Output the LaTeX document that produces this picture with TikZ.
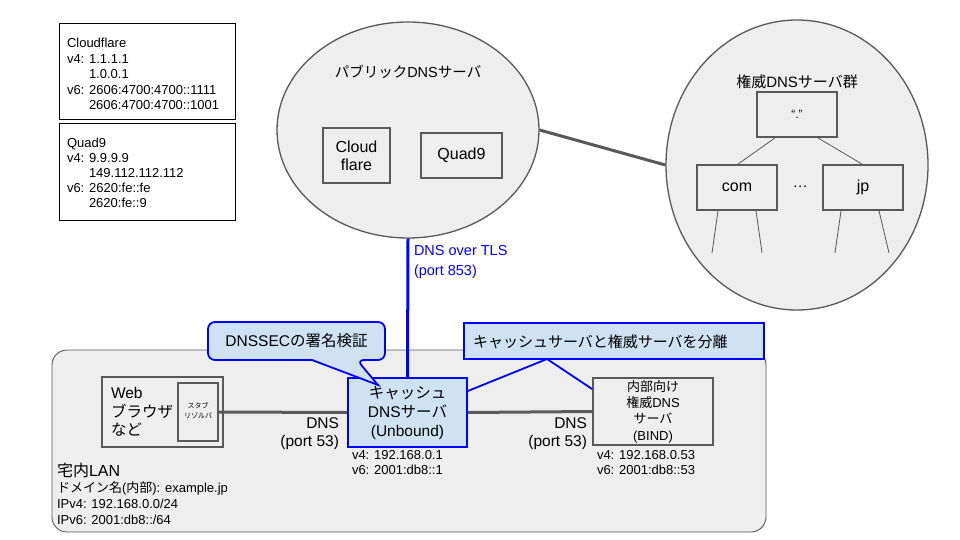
\documentclass[tikz,border=0pt]{standalone}
\usepackage{fontspec}
\setmainfont{Liberation Sans}
\newfontfamily\jafont{Noto Sans CJK JP}
\newcommand\J[1]{{\jafont #1}}
\newcommand\fs[2]{\fontsize{#1}{#2}\selectfont}
\usetikzlibrary{shapes.geometric}
\definecolor{lgray}{HTML}{EEEEEE}
\definecolor{dgray}{HTML}{595959}
\definecolor{lblue}{HTML}{CFE2F3}
\definecolor{pblue}{HTML}{0000FF}
\begin{document}
\begin{tikzpicture}[x=1pt,y=-1pt,
  ell/.style={ellipse, draw=dgray, line width=1.3pt, fill=lgray, inner sep=0},
  gbox/.style={rectangle, draw=dgray, line width=1.8pt, fill=lgray, inner sep=0},
  wbox/.style={rectangle, draw=black, line width=1pt, fill=white, inner sep=0},
  bbox/.style={rectangle, draw=pblue, line width=1.8pt, fill=lblue, inner sep=0},
  txt/.style={inner sep=0, outer sep=0, text=black},
  conn/.style={draw=dgray, line width=3pt},
  thin/.style={draw=dgray, line width=0.8pt},
  bline/.style={draw=pblue, line width=1.8pt},
  sz/.style 2 args={minimum width=#1, minimum height=#2}]
\useasboundingbox (0,0) rectangle (960,540);
\fill[white] (0,0) rectangle (960,540);

% info boxes
\node[wbox, sz={176}{96}] (cfinfo) at (147,72) {};
\node[txt, anchor=west, align=left, font=\fs{13}{15.5}] (cfinfotxt) at (67,74) {Cloudflare\\v4: 1.1.1.1\\\hspace*{22pt}1.0.0.1\\v6: 2606:4700:4700::1111\\\hspace*{22pt}2606:4700:4700::1001};
\node[wbox, sz={176}{96}] (q9info) at (147,172) {};
\node[txt, anchor=west, align=left, font=\fs{13}{15}] (q9infotxt) at (67,173) {Quad9\\v4: 9.9.9.9\\\hspace*{22pt}149.112.112.112\\v6: 2620:fe::fe\\\hspace*{22pt}2620:fe::9};

% public DNS
\node[ell, sz={262}{216}] (pub) at (408,130) {};
\node[ell, sz={262}{290}] (auth) at (797,165) {};
\draw[conn] (pub.east) -- (auth.west);
\node[txt, font=\fs{14.5}{17}] (pubtitle) at (408,72) {\J{パブリック}DNS\J{サーバ}};
\node[gbox, sz={67}{55}] (cf) at (356.5,155.5) {};
\node[txt, align=center, font=\fs{16}{18}] (cftxt) at (cf) {Cloud\\flare};
\node[gbox, sz={81}{45}] (q9) at (461.5,155.5) {};
\node[txt, font=\fs{16}{18}] (q9txt) at (q9) {Quad9};

% authoritative
\node[txt, font=\fs{15}{17}] (authtitle) at (797,82) {\J{権威}DNS\J{サーバ群}};
\node[gbox, sz={80}{45}] (root) at (797,114.5) {};
\node[txt, font=\fs{12}{14}] (roottxt) at (root) {“.”};
\node[gbox, sz={80}{45}] (com) at (737,187.5) {};
\node[txt, font=\fs{16}{18}] (comtxt) at (com) {com};
\node[gbox, sz={80}{45}] (jp) at (863,187.5) {};
\node[txt, font=\fs{16}{18}] (jptxt) at (jp) {jp};
\node[txt, font=\fs{13}{15}] (dots) at (800,187) {\J{…}};
\draw[thin] ([xshift=-22]root.south) -- ([xshift=1]com.north);
\draw[thin] ([xshift=21]root.south) -- ([xshift=-1]jp.north);
\draw[thin] ([xshift=-19]com.south) -- +(-6,42);
\draw[thin] ([xshift=19]com.south) -- +(6,42);
\draw[thin] ([xshift=-22]jp.south) -- +(-6,42);
\draw[thin] ([xshift=16]jp.south) -- +(10,42);

% LAN
\node[rectangle, draw=dgray, line width=0.9pt, fill=lgray, rounded corners=15, sz={714}{182}] (lan) at (409,441) {};
\node[gbox, sz={121}{70}] (web) at (162.5,412) {};
\node[txt, anchor=west, align=left, font=\fs{15.5}{18.5}] (webtxt) at (111,412) {Web\\\J{ブラウザ}\\\J{など}};
\node[gbox, sz={40}{58}] (stub) at (198,412) {};
\node[txt, align=center, font=\fs{7}{10}\jafont] (stubtxt) at (198,411) {スタブ\\リゾルバ};
\node[bbox, sz={119}{69}] (cache) at (407.5,412.5) {};
\node[txt, align=center, font=\fs{15.5}{19}] (cachetxt) at (cache) {\J{キャッシュ}\\DNS\J{サーバ}\\(Unbound)};
\node[gbox, sz={120}{67}] (bind) at (653,411.5) {};
\node[txt, align=center, font=\fs{13}{16.3}] (bindtxt) at (bind) {\J{内部向け}\\\J{権威}DNS\\\J{サーバ}\\(BIND)};

\draw[conn] (stub.east) -- (cache.west);
\draw[conn] (cache.east) -- (bind.west);
\draw[pblue, line width=3pt] (pub.south) -- (cache.north);

\node[txt, anchor=west, align=left, text=pblue, font=\fs{14.5}{20}] (dotlbl) at (414,262) {DNS over TLS\\(port 853)};
\node[txt, anchor=east, align=right, font=\fs{15.5}{18}] (dnsl) at (339,434) {DNS\\(port 53)};
\node[txt, anchor=east, align=right, font=\fs{15.5}{18}] (dnsr) at (587,434) {DNS\\(port 53)};
\node[txt, anchor=west, align=left, font=\fs{13}{15}] (cacheaddr) at (352,462.5) {v4: 192.168.0.1\\v6: 2001:db8::1};
\node[txt, anchor=west, align=left, font=\fs{13}{15}] (bindaddr) at (597,462.5) {v4: 192.168.0.53\\v6: 2001:db8::53};
\node[txt, anchor=west, font=\fs{16}{18}] (lantitle) at (57,470) {\J{宅内}LAN};
\node[txt, anchor=west, align=left, font=\fs{13}{16}] (lantxt) at (57,503) {\J{ドメイン名}(\J{内部}): example.jp\\IPv4: 192.168.0.0/24\\IPv6: 2001:db8::/64};

% callouts
\draw[bline, fill=lblue, rounded corners=7] (208,322) -- (385,322) -- (385,360) -- (357,360) [sharp corners] -- (378,385) -- (312,360) [rounded corners=7] -- (208,360) -- cycle;
\node[txt, font=\fs{15.5}{18}] (dnssec) at (296.5,341) {DNSSEC\J{の署名検証}};
\node[bbox, sz={300}{36}] (sep) at (614,341) {};
\node[txt, anchor=west, font=\fs{15}{18}\jafont] (septxt) at (473,342) {キャッシュサーバと権威サーバを分離};
\coordinate (sepb) at (547,359);
\draw[bline] (sepb) -- ([yshift=21.5]cache.east);
\draw[bline] (sepb) -- ([yshift=22.5]bind.west);
\end{tikzpicture}
\end{document}
